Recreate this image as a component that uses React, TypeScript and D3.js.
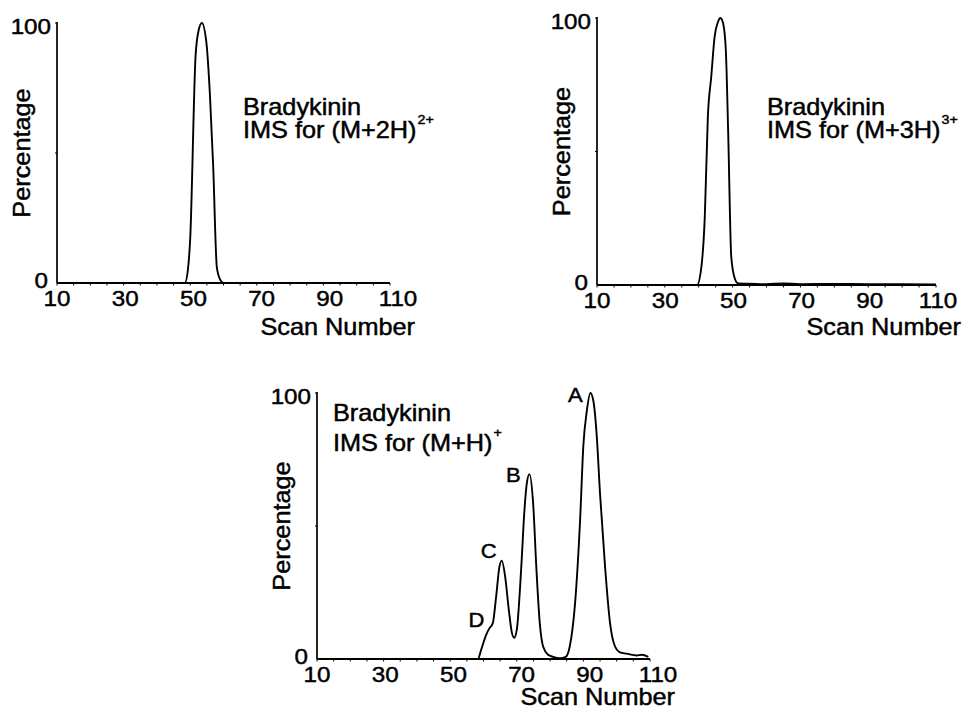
import React from "react";
import * as d3 from "d3";

// Scan-number axis labels and percentage axis labels shared by all three traces
const SCAN_TICKS = [10, 30, 50, 70, 90, 110];
const PCT_TICKS = [0, 100];
const MINOR_STEP = 5;

// Ion mobility trace for (M+2H)2+
const scan2H = [10, 48.4, 49.3, 50, 51.6, 52.5, 53.5, 54.9, 55.9, 56.9, 58, 59, 60, 110];
const pct2H = [0, 0, 5, 17, 87, 97, 100, 92, 73, 45, 6, 1.3, 0, 0];

// Ion mobility trace for (M+3H)3+
const scan3H = [10, 39.5, 40.8, 41.8, 42.7, 43.7, 44.7, 45.7, 46.4, 47.2, 48.0, 48.7, 49.6, 50.6, 51.6, 55, 60, 65, 70, 80, 90, 100, 110];
const pct3H = [0, 0, 6.9, 25.6, 63, 78, 93, 98.6, 100, 98, 88, 57, 10.6, 2.6, 0.6, 0.5, 0.3, 0.6, 0.3, 0.4, 0.3, 0.3, 0.2];

// Ion mobility trace for (M+H)+ with four conformer peaks A-D
const scan1H = [10, 58.3, 59.3, 60.8, 61.8, 62.8, 63.8, 64.8, 65.5, 66.5, 67.6, 68.5, 69.2, 70.0, 71.3, 72.3, 73.0, 73.8, 74.9, 75.9, 76.9, 77.9, 79.4, 80.9, 82.9, 84.7, 85.9, 87.5, 89, 90, 91, 92.1, 93, 94, 95, 96.5, 98, 99.5, 101, 103, 106, 107.5, 109.5];
const pct1H = [0, 0, 3.5, 9.1, 11.6, 13.5, 23.5, 34.8, 37, 31, 18.5, 10, 8, 11, 33.6, 56, 66, 69.5, 58.6, 33.6, 13.5, 4.7, 1.6, 0.8, 0.3, 0.8, 4.7, 21, 52, 80.5, 93, 100, 97, 84, 62, 34.8, 13.5, 4.7, 2.5, 2, 1.3, 1.6, 0.8];

// Peak letters for the (M+H)+ trace
const peakNames = ["A", "B", "C", "D"];
const peakScans = [92.1, 73.8, 65.5, 61.8];
const peakPcts = [100, 69.5, 37, 11.6];

const FONT = "'Liberation Sans', Arial, Helvetica, sans-serif";
const STRETCH = 1.1;

type PanelProps = {
  scans: number[];
  pcts: number[];
  x0: number;
  x1: number;
  yTop: number;
  yBase: number;
  titleX: number;
  titleY: number;
  lineGap: number;
  scanTitleDy: number;
  ion: string;
  charge: string;
  peaks?: { name: string; scan: number; pct: number; dx: number; dy: number }[];
};

function Txt({ x, y, anchor = "start", size, rotate = 0, children }: any) {
  const tr = `translate(${x},${y})${rotate ? ` rotate(${rotate})` : ""} scale(${STRETCH},1)`;
  return (
    <text
      transform={tr}
      textAnchor={anchor}
      fontSize={size}
      fontFamily={FONT}
      fill="#000"
      stroke="#000"
      strokeWidth={0.45}
    >
      {children}
    </text>
  );
}

function Panel(p: PanelProps) {
  const x = d3.scaleLinear().domain([10, 110]).range([p.x0, p.x1]);
  const xLabel = d3.scaleLinear().domain([10, 110]).range([p.x0, p.x0 + 341]);
  const y = d3.scaleLinear().domain([0, 100]).range([p.yBase, p.yTop]);
  const pts = p.scans.map((s, i) => [s, p.pcts[i]] as [number, number]);
  const line = d3
    .line<[number, number]>()
    .x((d) => x(d[0]))
    .y((d) => y(d[1]))
    .curve(d3.curveMonotoneX);
  const minors = d3.range(10, 110 + 0.01, MINOR_STEP);
  return (
    <g>
      {/* axes */}
      <line x1={p.x0} x2={p.x0} y1={y(100) - 1} y2={p.yBase} stroke="#000" strokeWidth={1.7} />
      <line x1={p.x0} x2={p.x1} y1={p.yBase} y2={p.yBase} stroke="#000" strokeWidth={1.9} />
      <line x1={p.x0 - 2} x2={p.x0} y1={y(100)} y2={y(100)} stroke="#000" strokeWidth={1} />
      <line x1={p.x0 - 2} x2={p.x0} y1={y(50)} y2={y(50)} stroke="#000" strokeWidth={1} />
      {minors.map((m) => (
        <line key={m} x1={x(m)} x2={x(m)} y1={p.yBase} y2={p.yBase + 2.5} stroke="#000" strokeWidth={1} />
      ))}
      {/* trace */}
      <path d={line(pts) || ""} fill="none" stroke="#000" strokeWidth={1.9} strokeLinejoin="round" />
      {/* tick labels */}
      {SCAN_TICKS.map((t) => (
        <Txt key={t} x={xLabel(t)} y={p.yBase + 23} anchor="middle" size={22}>
          {t}
        </Txt>
      ))}
      {PCT_TICKS.map((t) => (
        <Txt key={t} x={p.x0 - (t === 0 ? 9 : 6)} y={t === 0 ? p.yBase + 5 : y(t) + 11} anchor="end" size={22}>
          {t}
        </Txt>
      ))}
      {/* axis titles */}
      <Txt x={p.x1 + 25} y={p.yBase + p.scanTitleDy} anchor="end" size={23}>
        Scan Number
      </Txt>
      <Txt x={p.x0 - 27} y={(p.yTop + p.yBase) / 2} anchor="middle" size={23} rotate={-90}>
        Percentage
      </Txt>
      {/* annotation */}
      <Txt x={p.titleX} y={p.titleY} size={23}>
        Bradykinin
      </Txt>
      <Txt x={p.titleX} y={p.titleY + p.lineGap} size={23}>
        {`IMS for ${p.ion}`}
        <tspan fontSize={13} dx={1} dy={-14}>
          {p.charge}
        </tspan>
      </Txt>
      {p.peaks?.map((k) => (
        <Txt key={k.name} x={x(k.scan) + k.dx} y={y(k.pct) + k.dy} anchor="middle" size={20}>
          {k.name}
        </Txt>
      ))}
    </g>
  );
}

export default function App() {
  const peakOffsets = [
    { dx: -15, dy: 9 },
    { dx: -16, dy: 8 },
    { dx: -13, dy: -3 },
    { dx: -13, dy: -1 },
  ];
  const peaks = peakNames.map((n, i) => ({
    name: n,
    scan: peakScans[i],
    pct: peakPcts[i],
    ...peakOffsets[i],
  }));
  return (
    <svg width={963} height={712} style={{ position: "absolute", left: 0, top: 0, background: "#fff" }}>
      <rect width={963} height={712} fill="#fff" />
      <Panel scans={scan2H} pcts={pct2H} x0={57} x1={390} yTop={23} yBase={283} titleX={243} titleY={115} lineGap={23} scanTitleDy={52} ion="(M+2H)" charge="2+" />
      <Panel scans={scan3H} pcts={pct3H} x0={597} x1={936} yTop={18} yBase={285} titleX={767} titleY={115} lineGap={23} scanTitleDy={50} ion="(M+3H)" charge="3+" />
      <Panel scans={scan1H} pcts={pct1H} x0={317} x1={650} yTop={393} yBase={659} titleX={333} titleY={421} lineGap={30} scanTitleDy={46} ion="(M+H)" charge="+" peaks={peaks} />
    </svg>
  );
}
